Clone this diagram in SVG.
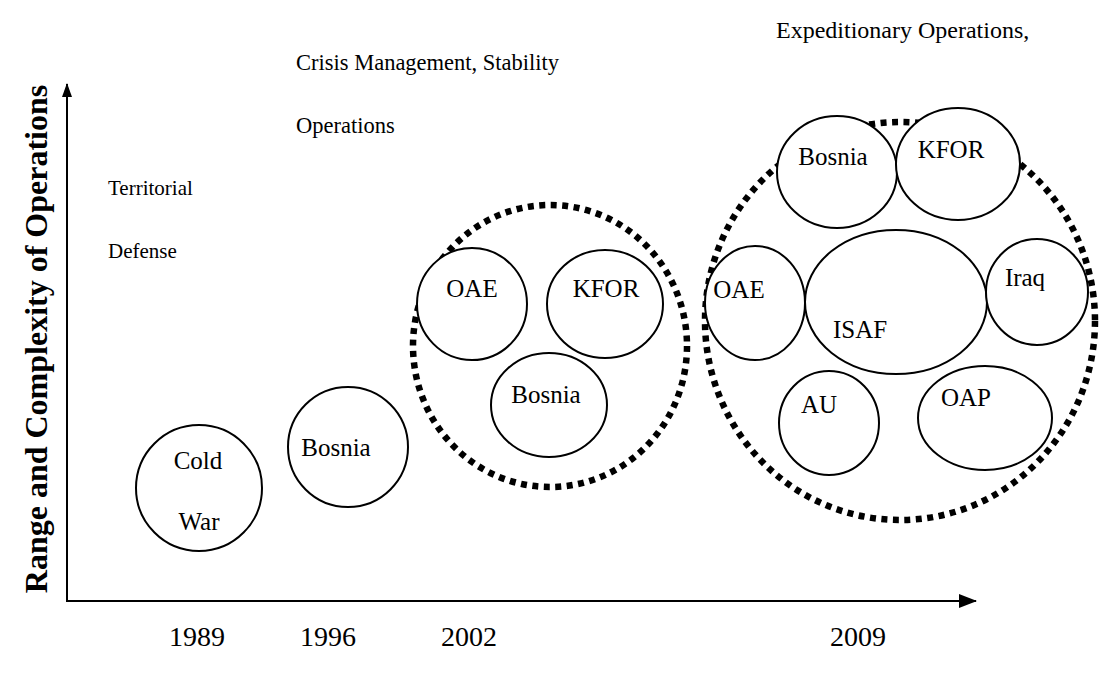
<svg xmlns="http://www.w3.org/2000/svg" width="1099" height="676" viewBox="0 0 1099 676">
  <defs>
    <marker id="arrow" viewBox="0 0 14 10" refX="13" refY="5" markerWidth="14" markerHeight="10" markerUnits="userSpaceOnUse" orient="auto">
      <path d="M0,0 L14,5 L0,10 z" fill="#000"/>
    </marker>
    <marker id="arrowBig" viewBox="0 0 18 14" refX="17" refY="7" markerWidth="18" markerHeight="14" markerUnits="userSpaceOnUse" orient="auto">
      <path d="M0,0 L18,7 L0,14 z" fill="#000"/>
    </marker>
    <style>
      text { font-family: "Liberation Serif", "Times New Roman", serif; fill: #000; }
      .cap { font-size: 21px; }
      .cap2 { font-size: 22.5px; }
      .cap3 { font-size: 24px; }
      .lbl { font-size: 25px; text-anchor: middle; }
      .yr { font-size: 28px; text-anchor: middle; }
      .node { fill: #fff; stroke: #000; stroke-width: 2; }
      .group { fill: none; stroke: #000; stroke-width: 6.5; stroke-dasharray: 6 5.5; }
      .axis { fill: none; stroke: #000; stroke-width: 2; }
    </style>
  </defs>

  <rect width="1099" height="676" fill="#fff"/>

  <!-- axes -->
  <g id="connectors">
    <line class="axis" x1="67" y1="601" x2="67" y2="84" marker-end="url(#arrow)"/>
    <line class="axis" x1="66" y1="601" x2="976" y2="601" marker-end="url(#arrowBig)"/>
  </g>

  <!-- axis titles -->
  <text transform="translate(47,339) rotate(-90)" text-anchor="middle" font-size="32" font-weight="bold">Range and Complexity of Operations</text>
  <text class="yr" x="197" y="646">1989</text>
  <text class="yr" x="328" y="646">1996</text>
  <text class="yr" x="469" y="646">2002</text>
  <text class="yr" x="858" y="646">2009</text>

  <!-- era captions -->
  <text class="cap" x="108" y="195">Territorial</text>
  <text class="cap" x="108" y="258">Defense</text>
  <text class="cap2" x="296" y="70">Crisis Management, Stability</text>
  <text class="cap2" x="296" y="133">Operations</text>
  <text class="cap3" x="776" y="38">Expeditionary Operations,</text>

  <!-- 1989 -->
  <g id="cold-war">
    <ellipse class="node" cx="199" cy="488" rx="63" ry="63"/>
    <text class="lbl" x="198" y="469">Cold</text>
    <text class="lbl" x="199" y="530">War</text>
  </g>

  <!-- 1996 -->
  <g id="bosnia-1996">
    <ellipse class="node" cx="348" cy="447" rx="60" ry="60"/>
    <text class="lbl" x="336" y="456">Bosnia</text>
  </g>

  <!-- 2002 cluster -->
  <g id="cluster-2002">
    <ellipse class="group" cx="550" cy="346" rx="137" ry="141"/>
  </g>
  <g id="oae-2002">
    <ellipse class="node" cx="472" cy="304" rx="55" ry="56"/>
    <text class="lbl" x="472" y="297">OAE</text>
  </g>
  <g id="kfor-2002">
    <ellipse class="node" cx="605" cy="304" rx="58" ry="54"/>
    <text class="lbl" x="606" y="297">KFOR</text>
  </g>
  <g id="bosnia-2002">
    <ellipse class="node" cx="549" cy="405" rx="58" ry="52"/>
    <text class="lbl" x="546" y="403">Bosnia</text>
  </g>

  <!-- 2009 cluster -->
  <g id="cluster-2009">
    <ellipse class="group" cx="900" cy="321" rx="195" ry="199"/>
  </g>
  <g id="bosnia-2009">
    <ellipse class="node" cx="837" cy="172" rx="60" ry="56"/>
    <text class="lbl" x="833" y="165">Bosnia</text>
  </g>
  <g id="kfor-2009">
    <ellipse class="node" cx="958" cy="164" rx="62" ry="56"/>
    <text class="lbl" x="951" y="158">KFOR</text>
  </g>
  <g id="oae-2009">
    <ellipse class="node" cx="755" cy="303" rx="50" ry="57"/>
    <text class="lbl" x="739" y="298">OAE</text>
  </g>
  <g id="isaf">
    <ellipse class="node" cx="896" cy="302" rx="91" ry="72"/>
    <text class="lbl" x="860" y="338">ISAF</text>
  </g>
  <g id="iraq">
    <ellipse class="node" cx="1037" cy="292" rx="51" ry="53"/>
    <text class="lbl" x="1025" y="286">Iraq</text>
  </g>
  <g id="au">
    <ellipse class="node" cx="829" cy="423" rx="50" ry="52"/>
    <text class="lbl" x="819" y="413">AU</text>
  </g>
  <g id="oap">
    <ellipse class="node" cx="985" cy="418" rx="67" ry="52"/>
    <text class="lbl" x="966" y="406">OAP</text>
  </g>
</svg>
